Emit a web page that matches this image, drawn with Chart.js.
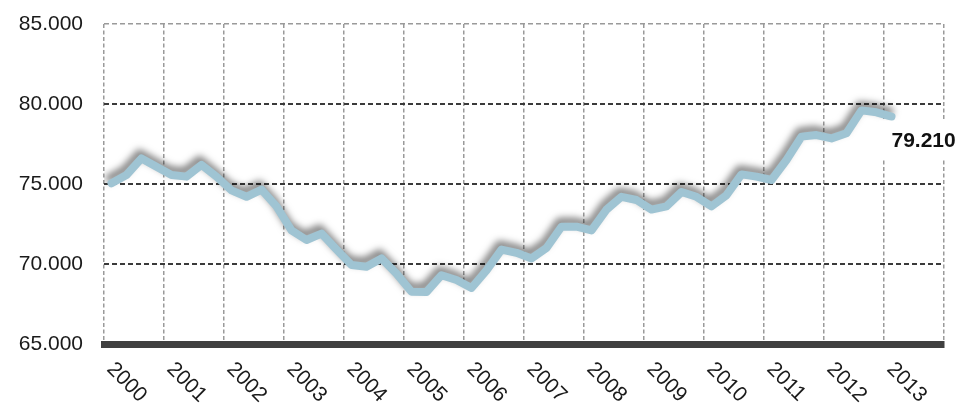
<!DOCTYPE html>
<html>
<head>
<meta charset="utf-8">
<script src="https://cdn.jsdelivr.net/npm/chart.js@4"></script>
<style>
  html, body { margin: 0; padding: 0; background: #fff; }
  #wrap { width: 959px; height: 403px; position: relative; }
</style>
</head>
<body>
<div id="wrap"><canvas id="chart"></canvas></div>
<script>
(() => {
  'use strict';

  // year tick labels (one gridline per year, last line has no label)
  const YEARS = [2000, 2001, 2002, 2003, 2004, 2005, 2006, 2007, 2008, 2009, 2010, 2011, 2012, 2013];

  // quarterly values, 2000 Q1 .. 2013 Q1
  const VALUES = [
    75040, 75560, 76600, 76080,
    75560, 75460, 76190, 75460,
    74600, 74200, 74650, 73600,
    72100, 71500, 71900, 70900,
    69940, 69830, 70350, 69400,
    68270, 68250, 69300, 69000,
    68500, 69600, 70900, 70700,
    70350, 71000, 72330, 72330,
    72100, 73400, 74200, 74000,
    73400, 73600, 74500, 74200,
    73600, 74300, 75600, 75460,
    75250, 76500, 77960, 78060,
    77850, 78170, 79600, 79480,
    79210,
  ];

  const Y_MIN = 65000, Y_MAX = 85000, Y_STEP = 5000;
  const FONT = "'Liberation Sans', Arial, sans-serif";

  // 75000 -> "75.000"
  const fmt = (v) => Math.round(v).toString().replace(/\B(?=(\d{3})+(?!\d))/g, '.');

  // soft grey shadow behind the line
  const shadow = {
    id: 'shadow',
    beforeDatasetDraw(chart) {
      const ctx = chart.ctx;
      ctx.save();
      ctx.shadowColor = 'rgba(0,0,0,0.5)';
      ctx.shadowBlur = 7;
      ctx.shadowOffsetX = -2;
      ctx.shadowOffsetY = -5;
    },
    afterDatasetDraw(chart) {
      chart.ctx.restore();
    },
  };

  // rotated year labels and the end value label
  const labels = {
    id: 'labels',
    afterDraw(chart) {
      const ctx = chart.ctx, x = chart.scales.x, y = chart.scales.y;
      ctx.save();
      ctx.fillStyle = '#1a1a1a';
      ctx.font = '21px ' + FONT;
      ctx.textAlign = 'left';
      ctx.textBaseline = 'alphabetic';
      YEARS.forEach((yr, i) => {
        const px = x.getPixelForValue(i * 4);
        ctx.save();
        ctx.translate(px + 2, y.bottom + 26);
        ctx.rotate(Math.PI / 4);
        ctx.fillText(String(yr), 0, 0);
        ctx.restore();
      });

      // last value
      const meta = chart.getDatasetMeta(0);
      const last = meta.data[meta.data.length - 1];
      const txt = fmt(VALUES[VALUES.length - 1]);
      ctx.font = 'bold 21px ' + FONT;
      const w = ctx.measureText(txt).width;
      const lx = last.x, ly = last.y + 25;
      ctx.fillStyle = '#fff';
      ctx.fillRect(lx - 12, ly - 21, w + 20, 38);
      ctx.fillStyle = '#111';
      ctx.textBaseline = 'middle';
      ctx.fillText(txt, lx, ly);
      ctx.restore();
    },
  };

  new Chart(document.getElementById('chart'), {
    type: 'line',
    data: {
      datasets: [{
        data: VALUES.map((v, i) => ({ x: i + 0.5, y: v })),
        borderColor: '#9fc4d3',
        borderWidth: 8,
        borderJoinStyle: 'round',
        borderCapStyle: 'round',
        pointRadius: 0,
        tension: 0,
        fill: false,
      }],
    },
    options: {
      responsive: true,
      maintainAspectRatio: false,
      animation: false,
      events: [],
      layout: { padding: { left: 0, top: 24, right: 15, bottom: 0 } },
      plugins: {
        legend: { display: false },
        tooltip: { enabled: false },
      },
      scales: {
        x: {
          type: 'linear',
          min: 0,
          max: YEARS.length * 4,
          ticks: { display: false, stepSize: 4 },
          grid: { color: '#9a9a9a', lineWidth: 1.5, drawTicks: false },
          border: { display: true, color: '#404040', width: 7, dash: [4, 2.5] },
          afterFit: (s) => { s.height = 59; },
        },
        y: {
          min: Y_MIN,
          max: Y_MAX,
          ticks: {
            stepSize: Y_STEP,
            padding: 21,
            color: '#1a1a1a',
            font: { family: FONT, size: 21 },
            callback: (v) => fmt(v),
          },
          grid: {
            drawTicks: false,
            // top line is light like the verticals
            color: (c) => c.tick && c.tick.value === Y_MAX ? '#9a9a9a' : '#3a3a3a',
            lineWidth: (c) => c.tick && c.tick.value === Y_MAX ? 1.5 : 2,
          },
          border: { display: false, dash: [5, 3] },
          afterFit: (s) => { s.width = 104; s.paddingTop = 0; s.paddingBottom = 0; },
        },
      },
    },
    plugins: [shadow, labels],
  });
})();
</script>
</body>
</html>
